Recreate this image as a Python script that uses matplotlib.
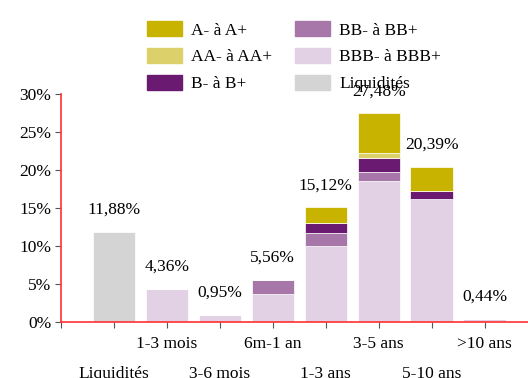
import numpy as np
import matplotlib
matplotlib.use("Agg")
import matplotlib.pyplot as plt
from matplotlib.patches import Patch
import matplotlib.transforms as mtransforms

plt.rcParams['font.family'] = ['Liberation Serif', 'DejaVu Serif']

categories = ['Liquidités', '1-3 mois', '3-6 mois', '6m-1 an', '1-3 ans', '3-5 ans', '5-10 ans', '>10 ans']
liq = [11.88, 0, 0, 0, 0, 0, 0, 0]
bbb = [0, 4.36, 0.95, 3.68, 10.00, 18.60, 16.15, 0.44]
bb = [0, 0, 0, 1.88, 1.70, 1.15, 0, 0]
b = [0, 0, 0, 0, 1.40, 1.90, 1.10, 0]
aa = [0, 0, 0, 0, 0, 0.60, 0, 0]
a = [0, 0, 0, 0, 2.02, 5.23, 3.14, 0]
totals = [11.88, 4.36, 0.95, 5.56, 15.12, 27.48, 20.39, 0.44]
total_labels = ['11,88%', '4,36%', '0,95%', '5,56%', '15,12%', '27,48%', '20,39%', '0,44%']

c_a = '#c8b400'
c_aa = '#dcd06a'
c_b = '#6b1a72'
c_bb = '#a877aa'
c_bbb = '#e2d1e4'
c_liq = '#d4d4d4'

fig = plt.figure(figsize=(5.28, 3.78), dpi=100)
ax = fig.add_axes([0.1155, 0.148, 0.8845, 0.603])

x = np.arange(len(categories))
w = 0.8
ax.bar(x, liq, w, color=c_liq, edgecolor='white', linewidth=0.5)
bottom = np.zeros(len(x))
for vals, col in [(bbb, c_bbb), (bb, c_bb), (b, c_b), (aa, c_aa), (a, c_a)]:
    ax.bar(x, vals, w, bottom=bottom, color=col, edgecolor='white', linewidth=0.5)
    bottom += np.array(vals)

# value labels above bars
for xi, t, lab in zip(x, totals, total_labels):
    ax.text(xi, t + 2.9, lab, ha='center', va='center', fontsize=12.5, clip_on=False)

ax.set_xlim(-1, 7.82)
ax.set_ylim(0, 30)
ax.set_yticks(np.arange(0, 31, 5))
ax.set_yticklabels([f'{v}%' for v in range(0, 31, 5)], fontsize=12.5)
ax.set_xticks(np.arange(-1, 8))
ax.set_xticklabels([])
ax.tick_params(axis='both', direction='out', length=4, color='#555555', width=0.8)
ax.tick_params(axis='y', pad=3)

for s in ['top', 'right']:
    ax.spines[s].set_visible(False)
for s in ['left', 'bottom']:
    ax.spines[s].set_color('#ff3030')
    ax.spines[s].set_linewidth(1.2)

# staggered category labels
trans = mtransforms.blended_transform_factory(ax.transData, ax.transAxes)
for i, cat in enumerate(categories):
    yy = -0.097 if i % 2 == 1 else -0.228
    ax.text(i, yy, cat, transform=trans, ha='center', va='center', fontsize=12.5)

handles = [Patch(color=c_a), Patch(color=c_aa), Patch(color=c_b),
           Patch(color=c_bb), Patch(color=c_bbb), Patch(color=c_liq)]
names = ['A- à A+', 'AA- à AA+', 'B- à B+', 'BB- à BB+', 'BBB- à BBB+', 'Liquidités']
fig.legend(handles, names, ncol=2, loc='upper left', bbox_to_anchor=(0.249, 0.985),
           frameon=False, fontsize=12.5, handlelength=2.0, handleheight=0.92,
           handletextpad=0.52, columnspacing=1.35, labelspacing=0.55)

fig.savefig('out.png', dpi=100)
